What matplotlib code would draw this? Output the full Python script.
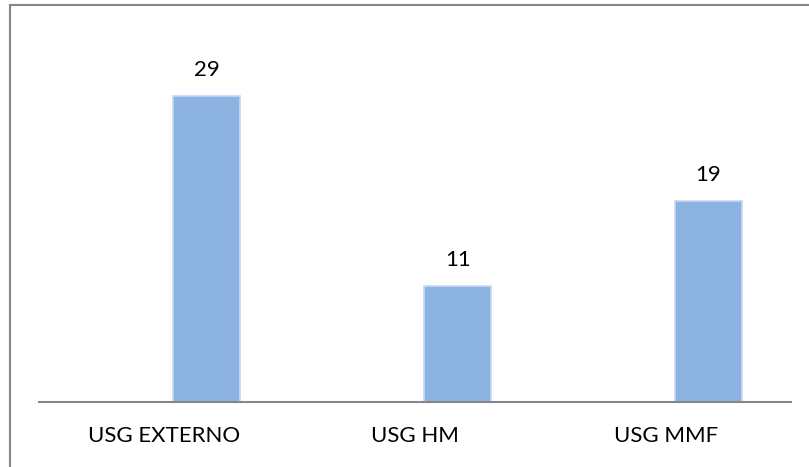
import matplotlib
matplotlib.use("Agg")
import matplotlib.pyplot as plt
from matplotlib.lines import Line2D

categories = ["USG EXTERNO", "USG HM", "USG MMF"]
values = [29, 11, 19]

W, H = 809, 467
plt.rcParams["font.family"] = ["Lato", "DejaVu Sans"]
fig = plt.figure(figsize=(W / 100, H / 100), dpi=100)

# outer frame: only top and left edges fall inside the image
fig.add_artist(Line2D([9.5 / W, 9.5 / W], [0, 1 - 4.5 / H], transform=fig.transFigure,
                      color="#868686", lw=1.5))
fig.add_artist(Line2D([9.5 / W, 1], [1 - 4.5 / H, 1 - 4.5 / H], transform=fig.transFigure,
                      color="#868686", lw=1.5))

ax_left, ax_right = 39 / W, 791 / W
ax_bottom = (H - 402) / H
ax_height = 372 / H
ax = fig.add_axes([ax_left, ax_bottom, ax_right - ax_left, ax_height])

x = list(range(len(categories)))
offset = 0.17  # bars sit right of the category centre
bar_x = [xi + offset for xi in x]
ax.bar(bar_x, values, width=0.267, color="#8DB3E2", edgecolor="#C6D9F1", linewidth=1.2)
ax.set_xlim(-0.5, len(categories) - 0.5)
ax.set_ylim(0, 35.25)

for bx, v in zip(bar_x, values):
    ax.annotate(str(v), (bx, v), xytext=(0, 19), textcoords="offset points",
                ha="center", va="center", fontsize=16, color="#000000")

ax.set_xticks(x)
ax.set_xticklabels(categories, fontsize=16)
ax.tick_params(axis="x", length=0, pad=17)
ax.set_yticks([])
for side in ("top", "right", "left"):
    ax.spines[side].set_visible(False)
ax.spines["bottom"].set_color("#868686")
ax.spines["bottom"].set_linewidth(1.5)

fig.savefig("out.png", dpi=100)
